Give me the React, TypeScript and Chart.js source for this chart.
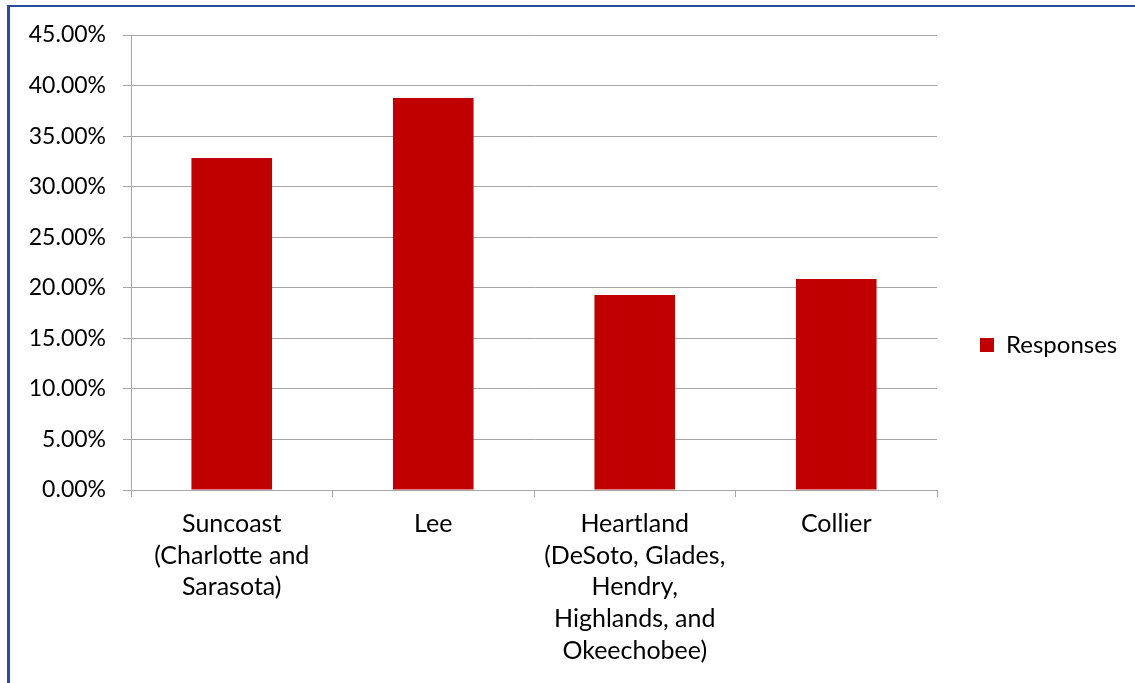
import { useEffect, useRef } from "react";
import { Chart, registerables } from "chart.js";

Chart.register(...registerables);

const categories: string[][] = [
  ["Suncoast", "(Charlotte and", "Sarasota)"],
  ["Lee"],
  ["Heartland", "(DeSoto, Glades,", "Hendry,", "Highlands, and", "Okeechobee)"],
  ["Collier"],
];
const responses: number[] = [0.3284, 0.3878, 0.1928, 0.2086];
const seriesLabel = "Responses";
const yMin = 0;
const yMax = 0.45;
const yStep = 0.05;

export default function App() {
  const ref = useRef<HTMLCanvasElement>(null);

  useEffect(() => {
    const canvas = ref.current;
    if (!canvas) return;
    const FONT = "Lato";
    const fsY = 23;
    const fsX = 25;
    const fsL = 24;
    const W = 1125;
    const H = 676;
    const areaLeft = 121;
    const areaRight = 927;
    const areaTop = 28;
    const areaBottom = 483;
    const legendPad = 43;
    const boxW = 14;
    const yTickPad = 17;

    const mctx = document.createElement("canvas").getContext("2d")!;
    mctx.font = `${fsL}px ${FONT}`;
    const tw = mctx.measureText(seriesLabel).width;
    const legendW = legendPad + boxW + fsL / 2 + tw + 10;
    const rightPad = Math.max(0, W - areaRight - legendW);

    const grid = "#a6a6a6";

    const chart = new Chart(canvas, {
      type: "bar",
      data: {
        labels: categories,
        datasets: [
          {
            label: seriesLabel,
            data: responses,
            backgroundColor: "#C00000",
            borderWidth: 0,
            barPercentage: 0.4,
            categoryPercentage: 1.0,
          },
        ],
      },
      options: {
        responsive: false,
        animation: false,
        devicePixelRatio: 1,
        layout: {
          padding: { left: 0, top: 0, right: rightPad, bottom: 0 },
        },
        plugins: {
          tooltip: { enabled: false },
          legend: {
            position: "right",
            labels: {
              boxWidth: boxW,
              boxHeight: boxW,
              padding: legendPad,
              color: "#000",
              font: { family: FONT, size: fsL },
            },
          },
        },
        scales: {
          x: {
            grid: {
              display: true,
              drawOnChartArea: false,
              drawTicks: true,
              tickLength: 7,
              color: grid,
              lineWidth: 1,
            },
            border: { display: true, color: grid, width: 1 },
            ticks: {
              color: "#000",
              font: { family: FONT, size: fsX, lineHeight: 1.27 },
              padding: 11,
              maxRotation: 0,
              minRotation: 0,
              autoSkip: false,
            },
            afterFit: (s: any) => {
              s.height = H - areaBottom;
            },
          },
          y: {
            min: yMin,
            max: yMax,
            grid: {
              color: grid,
              lineWidth: 1,
              tickLength: 8,
              drawTicks: true,
            },
            border: { display: true, color: grid, width: 1 },
            ticks: {
              stepSize: yStep,
              color: "#000",
              padding: yTickPad,
              font: {
                family: FONT,
                size: fsY,
                lineHeight: (2 * (areaTop - yTickPad)) / fsY,
              },
              callback: (v: any) => (Number(v) * 100).toFixed(2) + "%",
            },
            afterFit: (s: any) => {
              s.width = areaLeft;
            },
          },
        },
      },
    });
    return () => chart.destroy();
  }, []);

  return (
    <div
      style={{
        position: "fixed",
        left: 7,
        top: 5,
        width: 1125,
        height: 676,
        borderLeft: "3px solid #2B4C9B",
        borderTop: "2px solid #2B4C9B",
        background: "#fff",
      }}
    >
      <canvas ref={ref} width={1125} height={676} style={{ display: "block" }} />
    </div>
  );
}
